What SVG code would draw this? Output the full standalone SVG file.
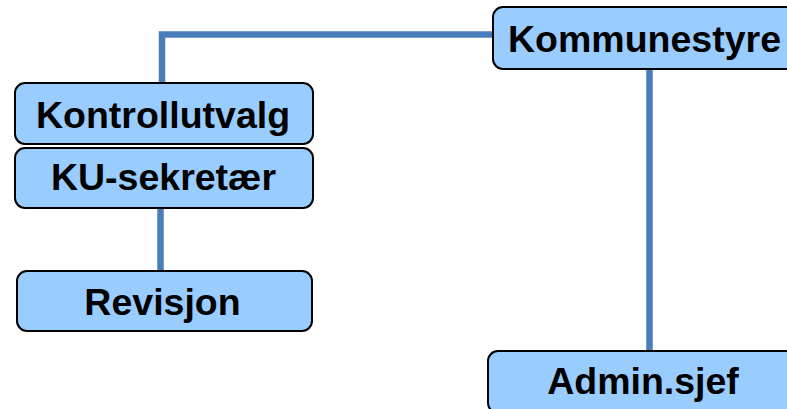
<svg xmlns="http://www.w3.org/2000/svg" width="787" height="409" viewBox="0 0 787 409">
<style>
.box{fill:#99CCFF;stroke:#000;stroke-width:2}
.lbl{font-family:"Liberation Sans",Arial,sans-serif;font-weight:bold;font-size:37.5px;fill:#000}
.c{text-anchor:middle}
.conn{fill:none;stroke:#4A7EBB;stroke-width:6.5}
</style>
<rect width="787" height="409" fill="#fff"/>
<g id="connectors">
<path class="conn" d="M162 84 V34.5 H494"/>
<path class="conn" d="M649.5 69 V352"/>
<path class="conn" d="M160.5 208 V272"/>
</g>
<g id="kommunestyre">
<rect class="box" x="493" y="7" width="310" height="62" rx="10"/>
<text class="lbl" x="508" y="52">Kommunestyre</text>
</g>
<g id="kontrollutvalg">
<rect class="box" x="15" y="83" width="298" height="61" rx="10"/>
<text class="lbl c" x="163" y="128">Kontrollutvalg</text>
</g>
<g id="ku-sekretaer">
<rect class="box" x="15" y="148" width="298" height="60" rx="10"/>
<text class="lbl c" x="163.5" y="190">KU-sekretær</text>
</g>
<g id="revisjon">
<rect class="box" x="17" y="271" width="295" height="60" rx="10"/>
<text class="lbl c" x="162.5" y="315">Revisjon</text>
</g>
<g id="admin-sjef">
<rect class="box" x="488" y="351" width="315" height="62" rx="10"/>
<text class="lbl c" x="643" y="394">Admin.sjef</text>
</g>
</svg>
